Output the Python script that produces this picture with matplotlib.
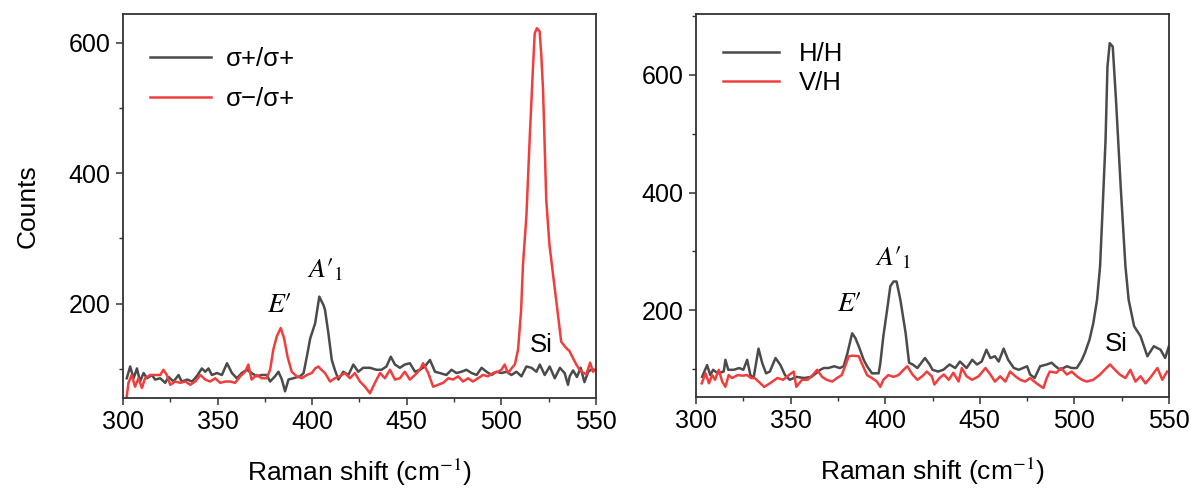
import matplotlib
matplotlib.use('Agg')
import matplotlib.pyplot as plt
from matplotlib.ticker import MultipleLocator

plt.rcParams['font.family'] = ['Liberation Sans', 'DejaVu Sans']
plt.rcParams['mathtext.fontset'] = 'stix'

# ---- left panel: circular polarisation ----
circ_same_x = [302, 303.8, 305.6, 307.4, 309, 310.9, 312.7, 315.3, 317, 319.7, 322.3, 324.1,
               326.7, 329.4, 331, 334, 336.5, 339, 341.7, 343.5, 345.2, 347, 349.7, 352.3,
               355, 357.6, 360.2, 362.8, 365.5, 368, 370.7, 373.3, 376, 377.8, 380.4, 382.2,
               384, 385.7, 387.5, 390, 393.7, 395.5, 397.2, 399, 401.6, 403.8, 406, 406.8,
               408.6, 410.4, 412, 413.9, 416.5, 419.2, 421.8, 424.4, 427, 430.6, 434, 436.7,
               439.3, 441.6, 443.8, 446.4, 449, 451.7, 454.4, 457, 459.6, 462.3, 465, 467.5,
               471, 473.7, 476.3, 479, 481.6, 484.3, 487, 489.6, 492.2, 494.9, 497.5, 500.1,
               502.8, 505.4, 508, 510.7, 513.3, 516, 518.6, 520.4, 523, 525.6, 528.3, 531,
               533.5, 535.3, 536.2, 538, 540, 542, 544, 546, 548, 550]
circ_same_y = [86, 104, 86, 101, 81, 94, 86, 91, 84, 86, 79, 88,
               81, 91, 81, 84, 81, 89, 101, 96, 101, 91, 94, 91,
               109, 94, 86, 94, 99, 94, 89, 91, 91, 81, 89, 96,
               84, 66, 84, 86, 89, 94, 119, 147, 170, 211, 198, 191,
               155, 114, 99, 84, 96, 91, 107, 96, 102, 102, 99, 99,
               104, 119, 107, 102, 107, 109, 96, 99, 104, 114, 96, 94,
               91, 99, 94, 96, 99, 94, 91, 102, 96, 91, 96, 94,
               96, 91, 96, 89, 104, 102, 96, 107, 91, 104, 86, 102,
               94, 76, 89, 98, 88, 102, 80, 96, 100, 98]

circ_cross_x = [302, 302.9, 304.6, 306.4, 308.2, 310, 311.7, 314.4, 317, 319.7, 321.4, 323.2,
                325, 327.6, 330.3, 333, 335.6, 338.2, 340.9, 343.5, 346.1, 348.8, 351.4, 354,
                356.7, 359.3, 362, 364.6, 366.3, 368, 370.7, 373.3, 376, 377.8, 379.5, 381.3,
                383.4, 385.2, 387, 389.2, 391.9, 394.5, 397.2, 399.8, 401.6, 403.3, 404.2, 406.8,
                409.5, 412, 414.7, 417.3, 420, 422.6, 425.3, 428, 430.6, 433.2, 435.9, 438.5,
                441.2, 443.8, 446.4, 449, 451.7, 454.4, 457, 458.7, 461.4, 464, 466.6, 469.3,
                472, 474.5, 477.2, 479.8, 482.5, 485, 487.7, 490.4, 493, 495.7, 498.3, 500.1,
                501.8, 503.6, 505.4, 507.2, 508.9, 510.5, 511.5, 513.3, 515, 516.8, 517.7, 518.9,
                520.3, 521.2, 522.1, 523.8, 525.5, 527.3, 529.5, 531.7, 534.4, 536, 537.9, 539.5,
                541.4, 543, 545, 547, 548.5, 550]
circ_cross_y = [58, 79, 91, 73, 86, 71, 86, 91, 91, 91, 99, 91,
                76, 81, 79, 81, 76, 81, 91, 84, 81, 86, 79, 81,
                81, 79, 89, 96, 107, 84, 91, 86, 86, 99, 130, 150,
                163, 147, 119, 96, 89, 86, 91, 94, 101, 104, 101, 94,
                81, 86, 89, 94, 86, 94, 81, 73, 63, 79, 94, 86,
                99, 84, 86, 96, 84, 91, 99, 109, 94, 73, 76, 79,
                86, 84, 89, 81, 86, 81, 86, 91, 89, 94, 96, 99,
                107, 94, 101, 107, 130, 190, 260, 334, 450, 563, 614, 622,
                617, 580, 528, 359, 290, 247, 195, 142, 132, 128, 117, 108,
                99, 95, 92, 110, 96, 100]

# ---- right panel: linear polarisation ----
lin_hh_x = [303.2, 305.8, 307.5, 309, 311.4, 314.6, 315.5, 317, 320, 322.8, 325, 327,
            328.7, 330.4, 333, 335, 337, 339, 342, 344.6, 347, 349.5, 353, 357,
            361, 365.7, 367.5, 370, 373, 376, 378, 380, 382.5, 384.2, 386, 388.6,
            390.4, 393, 396.5, 397.4, 399, 401, 402.7, 404.4, 406, 408, 410.8, 412.6,
            414.5, 417, 421, 423.5, 425, 428, 430.7, 434, 437, 439.5, 443, 446,
            448.5, 451, 453.5, 455.6, 458, 460, 462.6, 465, 468, 470.6, 475, 476.6,
            479, 481.9, 485.4, 488, 490, 492.5, 496, 498.6, 501.3, 504, 505.6, 508,
            510, 512, 513.6, 515, 516.5, 517.5, 518.7, 520.3, 522, 524.5, 527, 528.7,
            531.6, 535, 538.6, 542, 545.6, 548, 550]
lin_hh_y = [87, 107, 90, 99, 93, 96, 116, 99, 99, 102, 99, 116,
            90, 85, 135, 110, 93, 96, 119, 107, 90, 82, 87, 85,
            87, 99, 102, 102, 105, 102, 105, 127, 161, 153, 139, 116,
            105, 93, 93, 110, 156, 201, 241, 249, 249, 218, 161, 111,
            108, 102, 119, 108, 99, 96, 99, 108, 102, 113, 102, 116,
            108, 113, 133, 119, 122, 113, 135, 116, 102, 99, 105, 91,
            85, 105, 108, 111, 105, 99, 105, 102, 102, 116, 128, 150,
            178, 218, 275, 377, 490, 614, 654, 648, 558, 410, 275, 218,
            173, 156, 122, 139, 133, 119, 139]

lin_vh_x = [303, 305, 306.8, 308.5, 310, 312, 313.8, 315.5, 317.2, 319, 322, 324.5,
            327, 329, 331, 333, 336, 339, 343, 346, 349, 351.6, 353, 356,
            359, 361.6, 364, 366.6, 369, 372, 374.5, 377, 379, 380.7, 383, 386,
            388, 390.4, 393, 395.6, 397.4, 399, 401.6, 404.4, 407, 409.7, 411.7, 414.4,
            417, 419.6, 422, 424.6, 426, 428.7, 431, 433.6, 436, 438.8, 440.5, 443,
            445.9, 449.4, 453, 455.6, 458, 460.8, 463.5, 466, 468.8, 471.4, 474, 476.6,
            480, 483.6, 485.4, 487, 490.6, 493, 496, 498.6, 501.3, 504, 506.5, 510,
            513.6, 516, 518.8, 521.5, 524, 527, 529.6, 532.3, 535, 537.6, 540, 543.9,
            546.5, 549]
lin_vh_y = [76, 93, 76, 90, 82, 99, 79, 70, 90, 85, 90, 89,
            90, 85, 85, 79, 70, 76, 85, 82, 90, 96, 70, 82,
            82, 90, 99, 87, 82, 79, 85, 90, 107, 122, 123, 122,
            107, 90, 85, 79, 70, 82, 90, 87, 90, 99, 105, 91,
            82, 88, 96, 88, 74, 85, 91, 82, 94, 79, 102, 88,
            82, 88, 102, 91, 79, 88, 79, 96, 88, 82, 79, 85,
            76, 68, 85, 96, 94, 102, 91, 96, 88, 82, 79, 82,
            91, 99, 108, 99, 91, 85, 99, 79, 88, 76, 85, 102,
            82, 96]

xticks = [300, 350, 400, 450, 500, 550]
grey = '#4b4b4b'
red = '#f23d3d'

fig = plt.figure(figsize=(11.94, 4.93), dpi=100)
ax1 = fig.add_axes([0.103, 0.193, 0.396, 0.779])
ax2 = fig.add_axes([0.583, 0.195, 0.396, 0.776])

ax1.plot(circ_same_x, circ_same_y, color=grey, lw=1.8, label='σ+/σ+')
ax1.plot(circ_cross_x, circ_cross_y, color=red, lw=1.8, label='σ−/σ+')
ax1.set_ylim(56, 644)

ax2.plot(lin_hh_x, lin_hh_y, color=grey, lw=1.8, label='H/H')
ax2.plot(lin_vh_x, lin_vh_y, color=red, lw=1.8, label='V/H')
ax2.set_ylim(53, 703)

for ax in (ax1, ax2):
    ax.set_xlim(300, 550)
    ax.set_xticks(xticks)
    ax.xaxis.set_minor_locator(MultipleLocator(25))
    ax.set_yticks([200, 400, 600])
    ax.yaxis.set_minor_locator(MultipleLocator(100))
    ax.tick_params(which='major', direction='out', length=5, width=1.1,
                   labelsize=18, pad=4, color='#333333')
    ax.tick_params(which='minor', direction='out', length=3, width=1.0, color='#333333')
    for s in ax.spines.values():
        s.set_linewidth(1.3)
        s.set_color('#333333')
    ax.set_xlabel('Raman shift (cm$^{-1}$)', fontsize=19, labelpad=16)

ax1.legend(loc='upper left', frameon=False, fontsize=18.5, handlelength=2.4,
           handletextpad=0.55, labelspacing=0.6, borderaxespad=0.0,
           bbox_to_anchor=(0.035, 0.94))
ax2.legend(loc='upper left', frameon=False, fontsize=18.5, handlelength=2.2,
           handletextpad=0.75, labelspacing=0.2, borderaxespad=0.0,
           bbox_to_anchor=(0.035, 0.955))

ax1.set_ylabel('Counts', fontsize=19, labelpad=21)

ax1.text(383, 198, "$E′$", fontsize=20, ha='center', va='center')
ax1.text(407, 252, "$A′_1$", fontsize=20, ha='center', va='center')
ax1.text(521, 137, 'Si', fontsize=18.5, ha='center', va='center')

ax2.text(381, 210, "$E′$", fontsize=20, ha='center', va='center')
ax2.text(404, 289, "$A′_1$", fontsize=20, ha='center', va='center')
ax2.text(522, 142, 'Si', fontsize=18.5, ha='center', va='center')

fig.savefig('out.png', dpi=100)
